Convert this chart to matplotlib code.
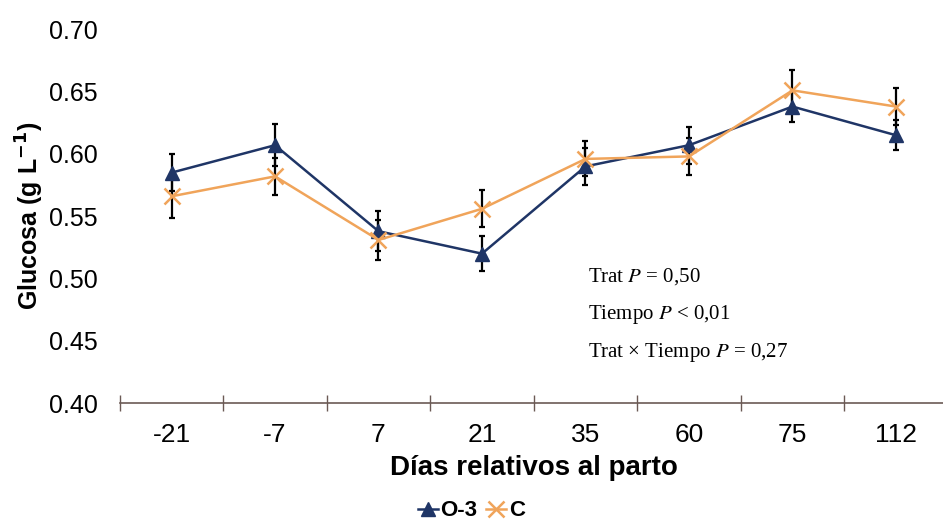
import matplotlib.pyplot as plt
import numpy as np

dias = ["-21", "-7", "7", "21", "35", "60", "75", "112"]
o3_mean = [0.585, 0.607, 0.538, 0.520, 0.590, 0.607, 0.638, 0.615]
o3_err = [0.015, 0.017, 0.016, 0.014, 0.015, 0.015, 0.012, 0.012]
c_mean = [0.566, 0.582, 0.531, 0.556, 0.596, 0.598, 0.651, 0.638]
c_err = [0.017, 0.015, 0.016, 0.015, 0.014, 0.015, 0.016, 0.015]

azul = "#1f3566"
naranja = "#f0a45a"

plt.rcParams['font.family'] = ['Liberation Sans', 'DejaVu Sans']

fig = plt.figure(figsize=(9.43, 5.23), dpi=100)
ax = fig.add_axes([0.127, 0.229, 0.878, 0.715])

x = np.arange(len(dias))
ax.errorbar(x, o3_mean, yerr=o3_err, fmt="none", ecolor="black",
            elinewidth=1.6, capsize=2.5, capthick=1.6, zorder=2)
ax.errorbar(x, c_mean, yerr=c_err, fmt="none", ecolor="black",
            elinewidth=1.6, capsize=2.5, capthick=1.6, zorder=2)
ax.plot(x, o3_mean, color=azul, lw=1.8, marker="^", ms=10,
        label="O-3", zorder=3)
ax.plot(x, c_mean, color=naranja, lw=1.8, marker="x", ms=12, mew=1.8,
        label="C", zorder=4)

ax.set_xlim(-0.5, 7.5)
ax.set_ylim(0.40, 0.70)
ax.set_yticks(np.arange(0.40, 0.701, 0.05))
ax.set_yticklabels([f"{v:.2f}" for v in np.arange(0.40, 0.701, 0.05)],
                   fontsize=18)
ax.tick_params(axis="y", length=0, pad=16)

# category labels in the middle, tick marks on the boundaries
ax.set_xticks(x)
ax.set_xticklabels(dias, fontsize=19)
ax.set_xticks(np.arange(-0.5, 7.5, 1), minor=True)
ax.tick_params(axis="x", which="major", length=0, pad=14)
ax.tick_params(axis="x", which="minor", length=12, direction="inout",
               color="#6b5a55", width=1)

for s in ["top", "right", "left"]:
    ax.spines[s].set_visible(False)
ax.spines["bottom"].set_color("#6b5a55")
ax.spines["bottom"].set_linewidth(1.2)

ax.set_ylabel("Glucosa (g L$^{\\mathbf{-1}}$)", fontsize=18,
              fontweight="bold", labelpad=2)
ax.set_xlabel("Días relativos al parto", fontsize=20, fontweight="bold",
              labelpad=6)

stats = ["Trat $P$ = 0,50", "Tiempo $P$ < 0,01",
         "Trat × Tiempo $P$ = 0,27"]
for i, t in enumerate(stats):
    fig.text(0.624, 1 - (277 + 38 * i) / 523, t, fontsize=15,
             family="Liberation Serif", va="center",
             math_fontfamily="stix")

leg = fig.legend(loc="center", bbox_to_anchor=(0.5, 1 - 511 / 523),
                 ncol=2, frameon=False, handlelength=0.9, handletextpad=0.1,
                 columnspacing=0.4, prop={"weight": "bold", "size": 16})

fig.savefig("out.png", dpi=100)
